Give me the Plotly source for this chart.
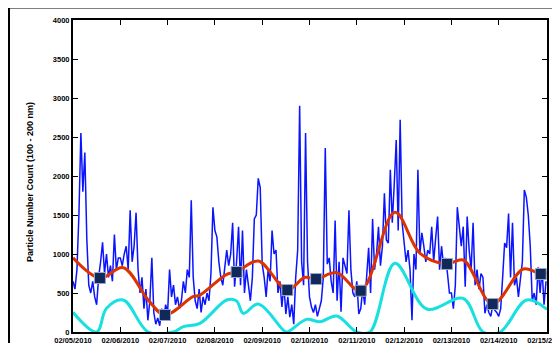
import pandas as pd
import plotly.graph_objects as go

# ---- Data ----
day1 = [650, 550, 800, 1500, 2550, 1800, 2300, 1200, 600, 500, 650, 450, 350, 700, 900, 1150, 750, 1000, 700, 850, 650, 1250, 800, 950]
day2 = [950, 850, 1000, 1100, 800, 1560, 900, 1100, 1530, 800, 500, 700, 300, 550, 150, 400, 950, 250, 100, 180, 80, 300, 150, 350]
day3 = [250, 800, 450, 600, 350, 450, 300, 400, 650, 500, 800, 700, 1690, 700, 400, 300, 550, 250, 450, 350, 500, 400, 750, 1600]
day4 = [1300, 1220, 900, 700, 600, 800, 1050, 850, 1000, 1400, 580, 900, 1350, 600, 1300, 500, 800, 600, 400, 700, 1450, 1500, 1970, 1850]
day5 = [870, 700, 450, 800, 650, 1300, 1000, 1050, 500, 650, 320, 600, 230, 450, 190, 350, 100, 700, 1050, 2900, 900, 600, 2550, 900]
day6 = [450, 320, 250, 350, 200, 300, 400, 700, 2360, 870, 950, 650, 500, 1430, 400, 900, 260, 950, 850, 750, 1560, 800, 500, 450]
day7 = [650, 230, 300, 550, 350, 700, 1080, 500, 1450, 800, 1000, 1350, 850, 1100, 1780, 1180, 1140, 2080, 1400, 1900, 2460, 1300, 2720, 1400]
day8 = [1100, 900, 1050, 800, 150, 1000, 800, 2080, 1000, 1270, 1100, 900, 1050, 1000, 1350, 900, 1200, 1480, 800, 1100, 850, 950, 750, 500]
day9 = [500, 300, 600, 1600, 1350, 1100, 1350, 580, 1480, 1050, 800, 1400, 600, 800, 550, 750, 700, 240, 350, 250, 200, 350, 280, 250]
day10 = [200, 300, 700, 1140, 1080, 1520, 700, 1400, 600, 700, 450, 650, 900, 1820, 1730, 1500, 1100, 400, 500, 350, 830, 500, 800, 350, 650]
blue_vals = day1 + day2 + day3 + day4 + day5 + day6 + day7 + day8 + day9 + day10
blue_times = pd.date_range("2010-02-05 00:00", periods=len(blue_vals), freq="h")

red_times = ["2010-02-05 00:00", "2010-02-05 13:40", "2010-02-06 01:30", "2010-02-06 14:10", "2010-02-06 22:40",
             "2010-02-07 12:50", "2010-02-07 16:25", "2010-02-08 06:00", "2010-02-08 11:00", "2010-02-08 22:00",
             "2010-02-09 12:45", "2010-02-09 21:40", "2010-02-10 03:20", "2010-02-10 13:50", "2010-02-11 02:00",
             "2010-02-11 19:20", "2010-02-12 08:05", "2010-02-12 21:45", "2010-02-13 06:00", "2010-02-13 20:55",
             "2010-02-14 12:30", "2010-02-14 21:20", "2010-02-15 00:30"]
red_vals = [952, 692, 824, 410, 218, 452, 474, 740, 769, 910, 538, 701, 679, 760, 529, 1535, 1009, 872, 923, 359, 808, 744, 760]

square_times = ["2010-02-05 13:40", "2010-02-06 22:40", "2010-02-08 11:00", "2010-02-09 12:45", "2010-02-10 03:20",
                "2010-02-11 02:00", "2010-02-12 21:45", "2010-02-13 20:55", "2010-02-14 21:20"]
square_vals = [692, 218, 769, 538, 679, 529, 872, 359, 744]

cyan_times = ["2010-02-05 00:00", "2010-02-05 12:00", "2010-02-05 17:00", "2010-02-06 01:30", "2010-02-06 14:10",
              "2010-02-07 02:50", "2010-02-07 08:00", "2010-02-07 16:25", "2010-02-08 06:00", "2010-02-08 11:00",
              "2010-02-08 14:25", "2010-02-08 22:00", "2010-02-09 10:40", "2010-02-09 12:30", "2010-02-09 22:30",
              "2010-02-10 05:20", "2010-02-10 13:50", "2010-02-10 23:55", "2010-02-11 06:40", "2010-02-11 19:20",
              "2010-02-12 11:30", "2010-02-13 06:00", "2010-02-13 16:05", "2010-02-14 00:45", "2010-02-14 14:10",
              "2010-02-15 00:30"]
cyan_vals = [252, 0, 304, 410, 0, 0, 68, 111, 410, 397, 239, 359, 26, 0, 162, 132, 205, 0, 0, 880, 295, 431, 0, 0, 410, 291]

y_title = "Particle Number Count (100 - 200 nm)"

# ---- Figure ----
FONT = "Liberation Sans, Arial, sans-serif"
fig = go.Figure()
fig.add_trace(go.Scatter(x=blue_times, y=blue_vals, mode="lines",
                         line=dict(color="#0a14ff", width=1.5), showlegend=False))
fig.add_trace(go.Scatter(x=cyan_times, y=cyan_vals, mode="lines",
                         line=dict(color="#18e0e0", width=3, shape="spline", smoothing=1.0), showlegend=False))
fig.add_trace(go.Scatter(x=red_times, y=red_vals, mode="lines",
                         line=dict(color="#dd3300", width=3, shape="spline", smoothing=1.0), showlegend=False))
fig.add_trace(go.Scatter(x=square_times, y=square_vals, mode="markers",
                         marker=dict(symbol="square", size=11, color="#10295a",
                                     line=dict(color="#9aa8c8", width=1)), showlegend=False))

# page body has an 8px default margin, so the figure is 8px smaller and margins shifted
fig.update_layout(
    width=552, height=335,
    margin=dict(l=65, r=13, t=12, b=11),
    paper_bgcolor="white", plot_bgcolor="white",
    font=dict(family=FONT, color="black"),
)
fig.update_xaxes(
    type="date", range=["2010-02-05 00:00", "2010-02-15 00:30"],
    tickformat="%m/%d/%Y", dtick=86400000, tick0="2010-02-05",
    ticks="inside", ticklen=5, tickwidth=1, tickcolor="black",
    showline=True, linecolor="black", linewidth=2, mirror="ticks",
    showgrid=False, zeroline=False, automargin=False,
    ticklabeloverflow="allow",
    tickfont=dict(size=7.5, family=FONT, weight="bold", color="black"),
)
fig.update_yaxes(
    range=[0, 4000], tick0=0, dtick=500,
    ticks="inside", ticklen=5, tickwidth=1, tickcolor="black",
    showline=True, linecolor="black", linewidth=2, mirror="ticks",
    showgrid=False, zeroline=False, automargin=False,
    tickfont=dict(size=7.5, family=FONT, weight="bold", color="black"),
)
fig.add_annotation(text=y_title, xref="paper", yref="paper", x=-0.091, y=0.48,
                   textangle=-90, showarrow=False, xanchor="center", yanchor="middle",
                   font=dict(size=9, family=FONT, weight="bold", color="black"))
# outer frame
fig.add_shape(type="rect", xref="paper", yref="paper", x0=-0.135, x1=1.2, y0=-0.2, y1=1.04,
              line=dict(color="black", width=2), layer="below")

fig.write_html("out.html")
